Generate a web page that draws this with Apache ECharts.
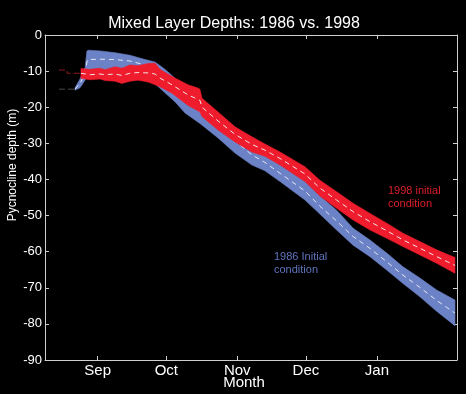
<!DOCTYPE html>
<html>
<head>
<meta charset="utf-8">
<script src="https://cdn.jsdelivr.net/npm/echarts@6/dist/echarts.min.js"></script>
<style>
html,body{margin:0;padding:0;background:#000;}
#c{width:466px;height:394px;}
</style>
</head>
<body>
<div id="c"></div>
<script>
// x values: days since Sep 1
const monthTicks = [0, 30, 61, 91, 122];
const monthLabels = ['Sep', 'Oct', 'Nov', 'Dec', 'Jan'];

const blueDays  = [-9.9,-7.7,-5.5,-4.7,-4.2,1.0,7.6,14.1,20.7,25.1,29.4,33.8,38.2,44.7,52.6,60.0,67.4,73.1,79.7,90.6,97.1,104.4,111.6,119.0,126.3,133.4,140.8,148.1,156.1];
const blueUpper = [-14.6,-12.2,-9,-4.5,-4.2,-4.4,-4.9,-5.6,-6.8,-7.5,-9.5,-12,-14.5,-18,-22,-26,-30.5,-33,-36,-40.5,-44.5,-48.5,-53.5,-56.8,-60.4,-64.2,-67.3,-70.6,-73.4];
const blueLower = [-15.3,-14.6,-12.5,-11,-10.5,-10.5,-10.5,-10.5,-11,-13.5,-16,-18.5,-21.6,-24.5,-28.5,-32.7,-36,-37.6,-40.6,-45.7,-49.6,-54,-58.2,-61.4,-65.1,-68.8,-72.5,-76.5,-80.5];
const blueMid   = [-15,-13.4,-10.7,-7.5,-6.8,-6.7,-6.8,-7.2,-8.3,-9.8,-12.3,-15,-18,-21.3,-25.3,-29.3,-33.2,-35.3,-38.3,-43.2,-47.4,-51.5,-55.8,-59.1,-62.8,-66.5,-69.9,-73.5,-77];

const redDays  = [-7.3,-3.3,1.0,3.2,7.6,10.6,14.1,17.6,22.0,25.1,27.2,32.5,39.5,43.8,44.7,45.6,52.6,60.0,67.4,73.1,79.7,90.6,97.1,104.4,111.6,119.0,126.3,133.4,140.8,148.1,156.1];
const redUpper = [-9.3,-9.5,-9.2,-9.6,-8.8,-9.2,-8.3,-8.5,-7.9,-7.8,-9.5,-11.5,-13.8,-14.7,-15,-17.5,-21.3,-25.4,-28.2,-30.2,-32.4,-36.5,-40.2,-43.4,-46.6,-49.4,-52.1,-54.9,-57.2,-59.5,-61.6];
const redLower = [-12,-12.4,-12.2,-12.6,-12.8,-13.4,-12.8,-12.5,-13,-13.8,-14.3,-16.1,-19.5,-21,-21.3,-22.6,-26.3,-29.6,-32.4,-33.6,-36,-40.6,-44.6,-48,-51.2,-54,-56.3,-58.6,-60.9,-63.2,-66];
const redMid   = [-10.6,-11,-10.8,-11,-10.8,-11.2,-10.6,-10.4,-10.5,-10.8,-11.9,-13.8,-16.6,-17.8,-18.1,-20,-23.8,-27.5,-30.3,-31.9,-34.2,-38.5,-42.4,-45.7,-48.9,-51.7,-54.2,-56.75,-59.05,-61.35,-63.8];

const stub1986Days = [-16.9, -9.9];
const stub1986Vals = [-15, -15];
const stub1998Days = [-16.9, -13.4, -13.4, -7.3];
const stub1998Vals = [-9.7, -9.7, -10.6, -10.6];

const FONT = 'Liberation Sans, Arial, Helvetica, sans-serif';
const AXIS_COLOR = '#cfcfcf';
const BLUE = '#6b82c6';
const RED = '#ee1c2c';

function zip(a, b) { return a.map((v, i) => [v, b[i]]); }

function bandSeries(name, days, upper, lower, color, z) {
  return {
    name: name,
    type: 'custom',
    z: z,
    clip: true,
    data: days.map((d, i) => [d, upper[i], lower[i]]),
    encode: { x: 0, y: [1, 2] },
    renderItem: function (params, api) {
      if (params.dataIndex !== 0) return null;
      const pts = [];
      for (let i = 0; i < days.length; i++) pts.push(api.coord([days[i], upper[i]]));
      for (let i = days.length - 1; i >= 0; i--) pts.push(api.coord([days[i], lower[i]]));
      return {
        type: 'polygon',
        shape: { points: pts },
        style: { fill: color, stroke: color, lineWidth: 0.6 }
      };
    }
  };
}

function dashSeries(name, days, vals, color, z, dash, width) {
  return {
    name: name,
    type: 'line',
    z: z,
    data: zip(days, vals),
    symbol: 'none',
    silent: true,
    lineStyle: { color: color, width: width || 1, type: dash || [5, 4] }
  };
}

const chart = echarts.init(document.getElementById('c'), null, { renderer: 'canvas' });
chart.setOption({
  backgroundColor: '#000',
  animation: false,
  textStyle: { fontFamily: FONT },
  title: {
    text: 'Mixed Layer Depths: 1986 vs. 1998',
    left: 229,
    textAlign: 'center',
    top: 11,
    textStyle: { color: '#fff', fontSize: 16, fontWeight: 'normal', fontFamily: FONT }
  },
  grid: { left: 45, right: 9, top: 35, bottom: 34, containLabel: false, outerBoundsMode: 'none' },
  xAxis: [{
    type: 'value', min: -23, max: 157, position: 'bottom',
    axisLine: { show: true, onZero: false, lineStyle: { color: AXIS_COLOR, width: 1 } },
    axisTick: { show: true, inside: true, length: 4, customValues: monthTicks, lineStyle: { color: AXIS_COLOR } },
    axisLabel: {
      show: true, customValues: monthTicks, color: '#fff', fontSize: 15, margin: 3, fontFamily: FONT,
      formatter: function (v) { const k = monthTicks.indexOf(v); return k >= 0 ? monthLabels[k] : ''; }
    },
    splitLine: { show: false },
    name: 'Month', nameLocation: 'middle', nameGap: 15, nameMoveOverlap: false,
    nameTextStyle: { color: '#fff', fontSize: 15, fontFamily: FONT, padding: [0, 14, 0, 0] }
  }, {
    type: 'value', min: -23, max: 157, position: 'top',
    axisLine: { show: true, onZero: false, lineStyle: { color: AXIS_COLOR, width: 1 } },
    axisTick: { show: true, inside: true, length: 4, customValues: monthTicks, lineStyle: { color: AXIS_COLOR } },
    axisLabel: { show: false },
    splitLine: { show: false }
  }],
  yAxis: [{
    type: 'value', min: -90, max: 0, interval: 10, position: 'left',
    axisLine: { show: true, onZero: false, lineStyle: { color: AXIS_COLOR, width: 1 } },
    axisTick: { show: true, inside: true, length: 4, lineStyle: { color: AXIS_COLOR } },
    axisLabel: { color: '#fff', fontSize: 13, margin: 3, fontFamily: FONT },
    splitLine: { show: false }
  }, {
    type: 'value', min: -90, max: 0, interval: 10, position: 'right',
    axisLine: { show: true, onZero: false, lineStyle: { color: AXIS_COLOR, width: 1 } },
    axisTick: { show: true, inside: true, length: 4, lineStyle: { color: AXIS_COLOR } },
    axisLabel: { show: false },
    splitLine: { show: false }
  }],
  graphic: [
    { type: 'text', x: 13, y: 165, rotation: Math.PI / 2, z: 100,
      style: { text: 'Pycnocline depth (m)', fill: '#fff', font: '12px ' + FONT, align: 'center', verticalAlign: 'middle' } },
    { type: 'text', left: 388, top: 184, z: 100,
      style: { text: '1998 initial\ncondition', fill: '#dc1e2c', font: '11px ' + FONT, lineHeight: 13 } },
    { type: 'text', left: 274, top: 250, z: 100,
      style: { text: '1986 Initial\ncondition', fill: '#5f74bd', font: '11px ' + FONT, lineHeight: 13 } }
  ],
  series: [
    dashSeries('1986 start', stub1986Days, stub1986Vals, '#4a4a4a', 1, [6, 3], 1),
    dashSeries('1998 start', stub1998Days, stub1998Vals, '#8a1a20', 1, [6, 3], 1),
    bandSeries('1986 band', blueDays, blueUpper, blueLower, BLUE, 2),
    dashSeries('1986 mean', blueDays, blueMid, '#e6e8f2', 3, [5, 4], 1),
    bandSeries('1998 band', redDays, redUpper, redLower, RED, 4),
    dashSeries('1998 mean', redDays, redMid, '#f2e6e6', 5, [5, 4], 1)
  ]
});
</script>
</body>
</html>
